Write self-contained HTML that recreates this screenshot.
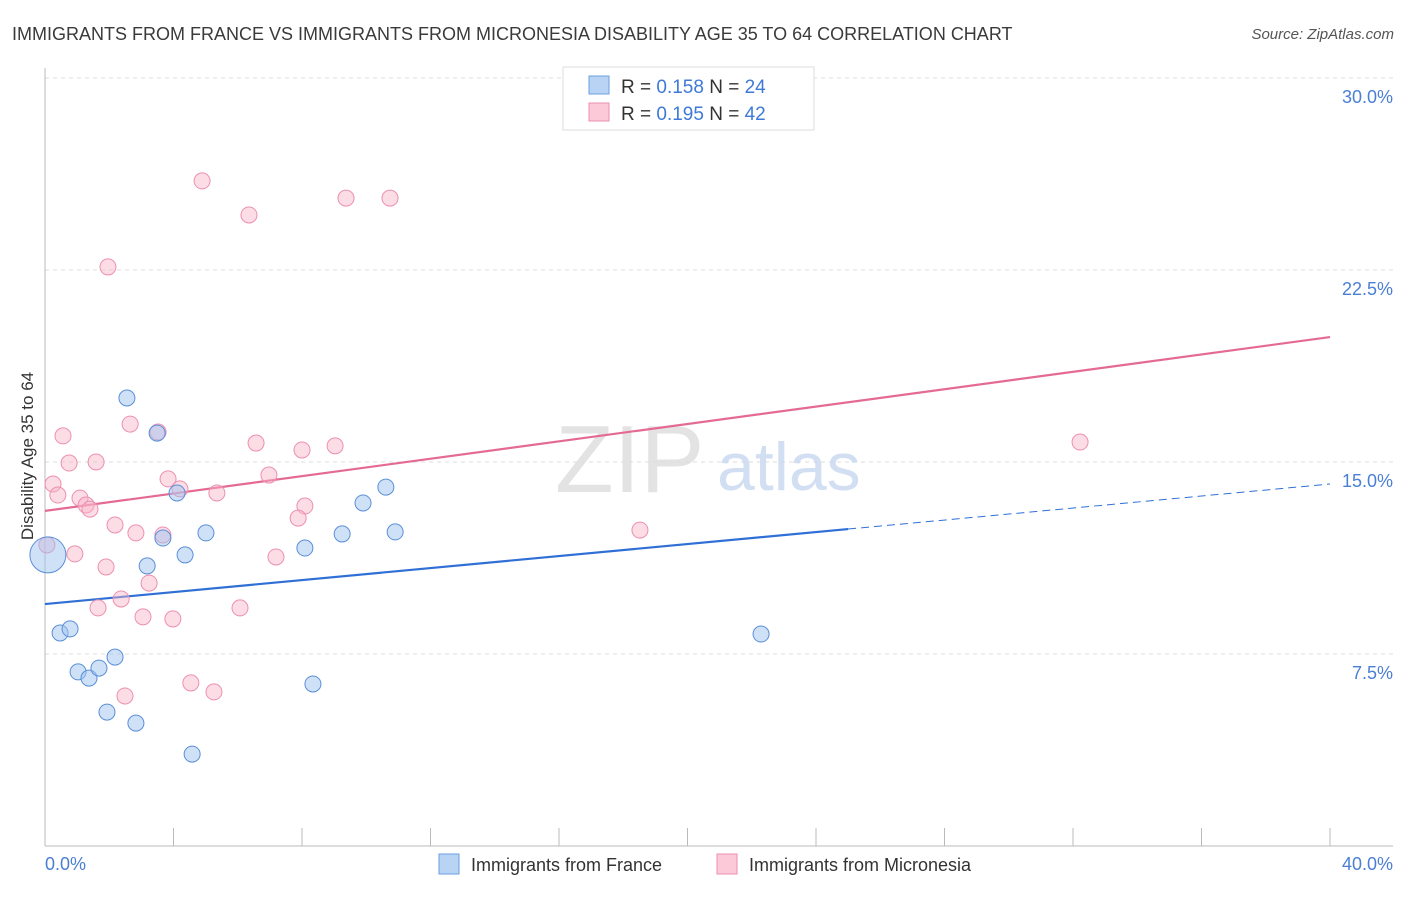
<!DOCTYPE html>
<html><head><meta charset="utf-8"><style>
body{margin:0;background:#fff;font-family:"Liberation Sans",sans-serif;}
svg text{font-family:"Liberation Sans",sans-serif;}
</style></head><body>
<svg id="chart" width="1406" height="892" viewBox="0 0 1406 892" xmlns="http://www.w3.org/2000/svg">
<text x="12" y="40" font-size="18" fill="#3a3a3a">IMMIGRANTS FROM FRANCE VS IMMIGRANTS FROM MICRONESIA DISABILITY AGE 35 TO 64 CORRELATION CHART</text>
<text x="1394" y="39" font-size="15" fill="#555" text-anchor="end" font-style="italic">Source: ZipAtlas.com</text>
<g id="grid"></g>
<g id="axes"></g>
<text x="555" y="492" font-size="96" fill="#ddd" font-family="Liberation Serif" opacity="0.8">ZIP</text>
<text x="717" y="490" font-size="68" fill="#c8d8f0" opacity="0.8">atlas</text>
<g id="lines"></g>
<g id="points"></g>
<text transform="translate(33,456) rotate(-90)" font-size="17" fill="#333" text-anchor="middle">Disability Age 35 to 64</text>
<text x="45" y="870" font-size="18" fill="#4a7fd4">0.0%</text>
<text x="1393" y="870" font-size="18" fill="#4a7fd4" text-anchor="end">40.0%</text>
<g>
<rect x="563" y="67" width="251" height="63" fill="#fff" stroke="#ddd"/>
<rect x="589" y="76" width="20" height="18" fill="#b9d3f5" stroke="#6a9fe0"/>
<rect x="589" y="103" width="20" height="18" fill="#fcc9d8" stroke="#ec8fb0"/>
<text x="621" y="93" font-size="19" fill="#333">R = <tspan fill="#3e7ad6">0.158</tspan>   N = <tspan fill="#3e7ad6">24</tspan></text>
<text x="621" y="120" font-size="19" fill="#333">R = <tspan fill="#3e7ad6">0.195</tspan>   N = <tspan fill="#3e7ad6">42</tspan></text>
</g>
<g>
<rect x="439" y="854" width="20" height="20" fill="#b9d3f5" stroke="#6a9fe0"/>
<text x="471" y="871" font-size="18" fill="#333">Immigrants from France</text>
<rect x="717" y="854" width="20" height="20" fill="#fcc9d8" stroke="#ec8fb0"/>
<text x="749" y="871" font-size="18" fill="#333">Immigrants from Micronesia</text>
</g>
</svg>
<script>
const yTicks=[7.5,15,22.5,30];
const yTickLabels=["7.5%","15.0%","22.5%","30.0%"];
const xTicks=[0,4,8,12,16,20,24,28,32,36,40];
const franceX=[2.55,3.49,4.11,3.67,3.18,4.36,5.01,8.09,9.25,9.90,10.61,10.90,0.47,0.78,1.03,1.37,1.68,2.18,1.93,2.83,4.58,8.34,22.29,0.09];
const franceY=[17.5,16.13,13.79,12.03,10.94,11.37,12.23,11.64,12.19,13.40,14.02,12.27,8.32,8.48,6.80,6.56,6.95,7.38,5.23,4.80,3.59,6.33,8.28,11.37];
const micX=[4.89,6.35,9.37,10.74,1.96,0.56,2.65,3.52,0.75,1.59,6.57,8.0,9.03,0.25,0.40,1.09,1.28,1.40,3.83,4.20,5.35,6.97,8.09,7.88,2.18,2.83,3.67,0.06,0.93,7.19,1.90,3.24,2.37,1.65,3.05,3.98,6.07,4.54,2.49,5.26,18.52,32.22];
const micY=[25.98,24.65,25.31,25.31,22.62,16.02,16.48,16.17,14.96,15.0,15.74,15.47,15.63,14.14,13.71,13.59,13.32,13.16,14.34,13.95,13.79,14.49,13.28,12.81,12.54,12.23,12.15,11.76,11.41,11.29,10.90,10.27,9.65,9.30,8.95,8.87,9.30,6.37,5.86,6.02,12.34,15.78];
const franceTrend=[9.45,14.14]; const franceSolidEnd=25.0;
const micTrend=[13.09,19.88];
const NS="http://www.w3.org/2000/svg";
const X=v=>45+v/40*1285, Y=v=>846-v*25.6;
function mk(t,a,p){const e=document.createElementNS(NS,t);for(const k in a)e.setAttribute(k,a[k]);p.appendChild(e);return e;}
const grid=document.getElementById('grid'),axes=document.getElementById('axes');
yTicks.forEach((t,i)=>{
 const l=mk('line',{x1:45,x2:1393,y1:Y(t),y2:Y(t),stroke:'#ddd','stroke-dasharray':'4,4'},grid);
 
 
 const tx=mk('text',{x:1393,y:Y(t)+25,'font-size':18,fill:'#4a7fd4','text-anchor':'end'},grid);
 tx.textContent=yTickLabels[i];
 
 
});
const tg=mk('line',{x1:45,x2:1393,y1:Y(30)-0,y2:Y(30),stroke:'#ddd','stroke-dasharray':'4,4'},grid);
mk('line',{x1:45,x2:45,y1:68,y2:846,stroke:'#bbb'},axes);
mk('line',{x1:45,x2:1393,y1:846,y2:846,stroke:'#bbb'},axes);
xTicks.forEach(t=>{const l=mk('line',{x1:X(t),x2:X(t),y1:828,y2:846,stroke:'#bbb'},axes);
 
 });
const lines=document.getElementById('lines');
const pl=mk('line',{x1:X(0),y1:Y(micTrend[0]),x2:X(40),y2:Y(micTrend[1]),stroke:'#e46a94','stroke-width':2.2},lines);


const fy=x=>franceTrend[0]+(franceTrend[1]-franceTrend[0])*x/40;
const bl=mk('line',{x1:X(0),y1:Y(fy(0)),x2:X(franceSolidEnd),y2:Y(fy(franceSolidEnd)),stroke:'#2f6fd6','stroke-width':2.2},lines);


const bd=mk('line',{x1:X(franceSolidEnd),y1:Y(fy(franceSolidEnd)),x2:X(40),y2:Y(fy(40)),stroke:'#2f6fd6','stroke-width':1,'stroke-dasharray':'8,5'},lines);


const pts=document.getElementById('points');
micX.forEach((x,i)=>{const c=mk('circle',{cx:X(x),cy:Y(micY[i]),r:8,fill:'rgba(248,180,200,0.45)',stroke:'#ec8fb0','stroke-width':1},pts);
 
 });
franceX.forEach((x,i)=>{const c=mk('circle',{cx:X(x),cy:Y(franceY[i]),r:i===franceX.length-1?18:8,fill:'rgba(160,195,240,0.5)',stroke:'#5a8fd8','stroke-width':1},pts);
 
 });
</script>
</body></html>
